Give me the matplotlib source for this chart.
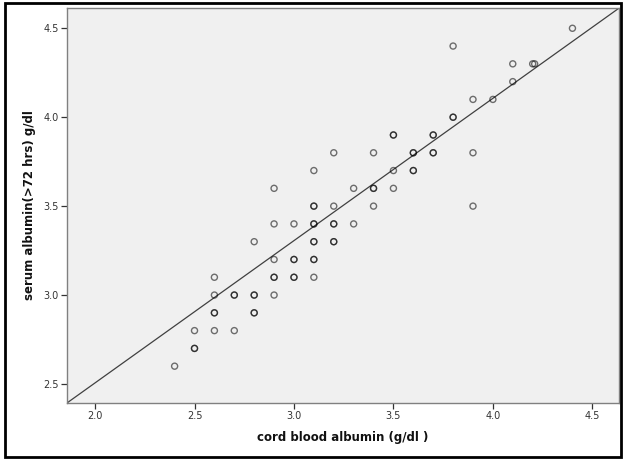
import matplotlib
matplotlib.use("Agg")
import matplotlib.pyplot as plt
from matplotlib.patches import Rectangle

# cord blood albumin (x) and serum albumin >72 hrs (y); repeated pairs drawn darker
cord = [2.4,
        2.5, 2.5,
        2.5, 2.6, 2.7,
        2.6, 2.6, 2.8, 2.8,
        2.6, 2.7, 2.7, 2.8, 2.8, 2.9,
        2.6, 2.9, 2.9, 3.0, 3.0, 3.1,
        2.9, 3.0, 3.0, 3.1, 3.1,
        2.8, 3.1, 3.1, 3.2, 3.2,
        2.9, 3.0, 3.1, 3.1, 3.2, 3.2, 3.3,
        3.1, 3.1, 3.2, 3.4, 3.9,
        2.9, 3.3, 3.4, 3.4, 3.5,
        3.1, 3.5, 3.6, 3.6,
        3.2, 3.4, 3.6, 3.6, 3.7, 3.7, 3.9,
        3.5, 3.5, 3.7, 3.7,
        3.8, 3.8,
        3.9, 4.0,
        4.1,
        4.1, 4.2, 4.21,
        3.8,
        4.4]
serum = [2.6,
         2.7, 2.7,
         2.8, 2.8, 2.8,
         2.9, 2.9, 2.9, 2.9,
         3.0, 3.0, 3.0, 3.0, 3.0, 3.0,
         3.1, 3.1, 3.1, 3.1, 3.1, 3.1,
         3.2, 3.2, 3.2, 3.2, 3.2,
         3.3, 3.3, 3.3, 3.3, 3.3,
         3.4, 3.4, 3.4, 3.4, 3.4, 3.4, 3.4,
         3.5, 3.5, 3.5, 3.5, 3.5,
         3.6, 3.6, 3.6, 3.6, 3.6,
         3.7, 3.7, 3.7, 3.7,
         3.8, 3.8, 3.8, 3.8, 3.8, 3.8, 3.8,
         3.9, 3.9, 3.9, 3.9,
         4.0, 4.0,
         4.1, 4.1,
         4.2,
         4.3, 4.3, 4.3,
         4.4,
         4.5]

fit_intercept = 0.906
fit_slope = 0.800

x_ticks = [2.0, 2.5, 3.0, 3.5, 4.0, 4.5]
y_ticks = [2.5, 3.0, 3.5, 4.0, 4.5]
x_lim = (1.859, 4.634)
y_lim = (2.393, 4.614)

W, H = 623, 459
fig = plt.figure(figsize=(W / 100, H / 100), dpi=100)
fig.patch.set_facecolor("white")

# outer black frame
fig.patches.append(Rectangle((5 / W, 2.5 / H), (W - 7) / W, (H - 5.5) / H,
                             transform=fig.transFigure, fill=False,
                             edgecolor="black", linewidth=2.0))

ax = fig.add_axes([67 / W, 1 - 403 / H, (619 - 67) / W, (403 - 8) / H])
ax.set_facecolor("#f0f0f0")
ax.set_xlim(*x_lim)
ax.set_ylim(*y_lim)

for s in ax.spines.values():
    s.set_color("#808080")
    s.set_linewidth(1.0)

ax.scatter(cord, serum, s=19, facecolors="none", edgecolors="black",
           linewidths=1.0, alpha=0.55, zorder=3)

xs = list(x_lim)
ax.plot(xs, [fit_intercept + fit_slope * v for v in xs], color="#404040",
        linewidth=0.9, zorder=2)

ax.set_xticks(x_ticks)
ax.set_yticks(y_ticks)
ax.set_xticklabels([f"{v:.1f}" for v in x_ticks])
ax.set_yticklabels([f"{v:.1f}" for v in y_ticks])
ax.tick_params(axis="both", direction="out", length=4, width=0.9,
               color="#333333", labelsize=7, labelcolor="#333333", pad=2)

fig.text(343 / W, 1 - 438 / H, "cord blood albumin (g/dl )", ha="center",
         va="center", fontsize=8.5, fontweight="bold", color="#111111")
fig.text(30 / W, 1 - 205 / H, "serum albumin(>72 hrs) g/dl", ha="center",
         va="center", rotation=90, fontsize=8.5, fontweight="bold",
         color="#111111")

fig.savefig("out.png", dpi=100)
